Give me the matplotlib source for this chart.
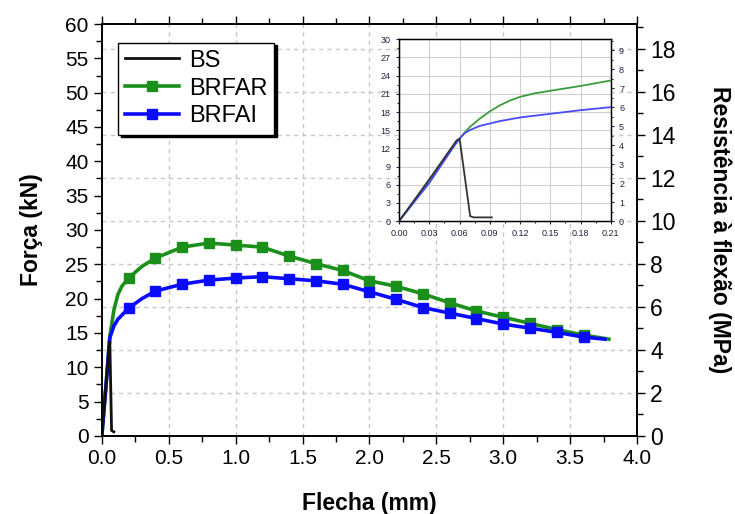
import numpy as np
import matplotlib.pyplot as plt
from matplotlib.ticker import MultipleLocator, FixedLocator

plt.rcParams['font.family'] = ['Liberation Sans', 'DejaVu Sans']

# main chart data: Flecha (mm) vs Força (kN)
bs_x = [0, 0.057, 0.060, 0.073, 0.090]
bs_y = [0, 13.4, 13.7, 0.8, 0.6]

brfar_x = [0, 0.03, 0.06, 0.09, 0.12, 0.15, 0.2, 0.3, 0.4, 0.6, 0.8, 1.0, 1.2, 1.4, 1.6, 1.8,
           2.0, 2.2, 2.4, 2.6, 2.8, 3.0, 3.2, 3.4, 3.6, 3.79]
brfar_y = [0, 7.0, 14.5, 18.3, 20.6, 21.8, 23.0, 24.7, 25.9, 27.5, 28.1, 27.8, 27.5, 26.2, 25.1, 24.1,
           22.6, 21.8, 20.7, 19.4, 18.2, 17.3, 16.4, 15.5, 14.7, 14.1]

brfai_x = [0, 0.03, 0.06, 0.09, 0.12, 0.15, 0.2, 0.3, 0.4, 0.6, 0.8, 1.0, 1.2, 1.4, 1.6, 1.8,
           2.0, 2.2, 2.4, 2.6, 2.8, 3.0, 3.2, 3.4, 3.6, 3.76]
brfai_y = [0, 7.0, 14.3, 16.0, 17.0, 17.6, 18.6, 20.0, 21.1, 22.1, 22.7, 23.0, 23.2, 22.9, 22.6, 22.1,
           21.0, 19.9, 18.7, 17.9, 17.1, 16.3, 15.7, 15.1, 14.4, 14.1]

# inset data (zoom of first 0.21 mm)
in_bs_x = [0, 0.03, 0.057, 0.060, 0.0705, 0.074, 0.092]
in_bs_y = [0, 6.9, 13.3, 13.6, 0.8, 0.6, 0.6]

in_far_x = [0, 0.03, 0.055, 0.06, 0.065, 0.07, 0.08, 0.09, 0.10, 0.11, 0.12, 0.135, 0.15, 0.18, 0.21]
in_far_y = [0, 6.5, 12.5, 13.6, 14.6, 15.5, 16.9, 18.1, 19.1, 19.9, 20.5, 21.1, 21.5, 22.3, 23.2]

in_fai_x = [0, 0.03, 0.055, 0.06, 0.065, 0.07, 0.08, 0.09, 0.10, 0.12, 0.15, 0.18, 0.21]
in_fai_y = [0, 6.3, 12.5, 13.6, 14.5, 15.0, 15.7, 16.1, 16.5, 17.1, 17.7, 18.3, 18.8]

KN_PER_MPA = 60 / 19.16

fig = plt.figure(figsize=(7.35, 5.14), dpi=100)
ax = fig.add_axes([0.1385, 0.1518, 0.7282, 0.8015])

green = '#1a8f1a'
blue = '#0a0aff'
mk = [6] + list(range(8, 25))
ax.plot(bs_x, bs_y, color='#111111', lw=2.0, label='BS', zorder=4)
ax.plot(brfar_x, brfar_y, color=green, lw=2.6, marker='s', ms=7.5, markevery=mk, label='BRFAR', zorder=3)
ax.plot(brfai_x, brfai_y, color=blue, lw=2.6, marker='s', ms=7.5, markevery=mk, label='BRFAI', zorder=3)

ax.set_xlim(0, 4.0)
ax.set_ylim(0, 60)
ax.xaxis.set_major_locator(MultipleLocator(0.5))
ax.xaxis.set_minor_locator(MultipleLocator(0.25))
ax.yaxis.set_major_locator(MultipleLocator(5))
ax.yaxis.set_minor_locator(MultipleLocator(2.5))
ax.xaxis.set_major_formatter(plt.FuncFormatter(lambda v, p: f'{v:.1f}'))
ax.tick_params(which='both', direction='out', width=1.0, labelsize=15, top=True, labeltop=False)
ax.tick_params(which='major', length=6)
ax.tick_params(which='minor', length=4)
for s in ax.spines.values():
    s.set_linewidth(1.2)

# dashed grid: vertical at x majors, horizontal at right-axis majors
for xv in np.arange(0.5, 4.0, 0.5):
    ax.axvline(xv, color='#c8c8c8', ls=(0, (3, 3)), lw=1.0, zorder=0)
for mv in range(2, 20, 2):
    ax.axhline(mv * KN_PER_MPA, color='#c8c8c8', ls=(0, (3, 3)), lw=1.0, zorder=0)

ax.set_xlabel('Flecha (mm)', fontsize=16.5, fontweight='bold', labelpad=17)
ax.set_ylabel('Força (kN)', fontsize=16.5, fontweight='bold', labelpad=16)

ax2 = ax.twinx()
ax2.set_ylim(0, 60 / KN_PER_MPA)
ax2.yaxis.set_major_locator(MultipleLocator(2))
ax2.yaxis.set_minor_locator(MultipleLocator(1))
ax2.tick_params(which='both', direction='out', width=1.0, labelsize=16.5)
ax2.tick_params(which='major', length=6)
ax2.tick_params(which='minor', length=4)
ax2.set_ylabel('Resistência à flexão (MPa)', fontsize=16.5, fontweight='bold', rotation=270, labelpad=40)
for s in ax2.spines.values():
    s.set_linewidth(1.2)

leg = ax.legend(loc='upper left', bbox_to_anchor=(0.03, 0.955), fontsize=17, frameon=True,
                fancybox=False, shadow={'color': 'black', 'alpha': 1.0}, edgecolor='black',
                handlelength=2.3, borderpad=0.3, labelspacing=0.25, handletextpad=0.4,
                borderaxespad=0)
leg.get_frame().set_linewidth(1.0)

# inset
ins = fig.add_axes([0.543, 0.570, 0.288, 0.3535])
ins.plot(in_bs_x, in_bs_y, color='#333333', lw=1.3, zorder=4)
ins.plot(in_far_x, in_far_y, color='#3c9c3c', lw=1.3, zorder=3)
ins.plot(in_fai_x, in_fai_y, color='#4a4aff', lw=1.3, zorder=3)
ins.set_xlim(0, 0.21)
ins.set_ylim(0, 30)
ins.xaxis.set_major_locator(FixedLocator(np.arange(0, 0.22, 0.03)))
ins.yaxis.set_major_locator(MultipleLocator(3))
ins.yaxis.set_minor_locator(MultipleLocator(1.5))
ins.xaxis.set_minor_locator(MultipleLocator(0.015))
ins.xaxis.set_major_formatter(plt.FuncFormatter(lambda v, p: f'{v:.2f}'))
ins.grid(True, which='major', color='#d0d0d0', lw=0.8)
ins.tick_params(which='both', direction='out', labelsize=6.5, colors='#222244', length=2.5, width=0.8)
ins.tick_params(which='minor', length=1.5)
for s in ins.spines.values():
    s.set_linewidth(1.0)
ins2 = ins.twinx()
ins2.set_ylim(0, 30 / KN_PER_MPA)
ins2.yaxis.set_major_locator(MultipleLocator(1))
ins2.yaxis.set_minor_locator(MultipleLocator(0.5))
ins2.tick_params(which='both', direction='out', labelsize=6.5, colors='#222244', length=2.5, width=0.8)
ins2.tick_params(which='minor', length=1.5)

fig.savefig('out.png', dpi=100)
